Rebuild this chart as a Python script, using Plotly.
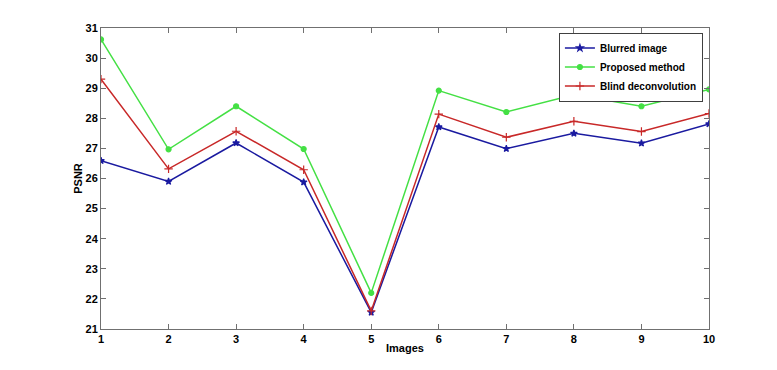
import plotly.graph_objects as go

images = [1, 2, 3, 4, 5, 6, 7, 8, 9, 10]
blurred = [26.59, 25.9, 27.18, 25.88, 21.55, 27.71, 26.99, 27.5, 27.17, 27.81]
proposed = [30.62, 26.97, 28.4, 26.98, 22.2, 28.92, 28.21, 28.78, 28.4, 28.96]
blind = [29.3, 26.32, 27.57, 26.29, 21.6, 28.14, 27.37, 27.9, 27.56, 28.16]

names = ["Blurred image", "Proposed method", "Blind deconvolution"]
colors = ["#1a1aa0", "#44e044", "#c82828"]
symbols = ["star", "circle", "cross-thin-open"]
sizes = [5, 5, 6]

fig = go.Figure()
for ys, nm, c, s, sz in zip([blurred, proposed, blind], names, colors, symbols, sizes):
    fig.add_trace(go.Scatter(
        x=images, y=ys, name=nm, mode="lines+markers",
        line=dict(color=c, width=1.5),
        marker=dict(symbol=s, size=sz, color=c, line=dict(color=c, width=1.2)),
    ))

font_fam = "Liberation Sans, Arial, sans-serif"
axis_common = dict(
    showgrid=False, zeroline=False, showline=True, linecolor="#707070", linewidth=1,
    mirror="ticks", ticks="inside", ticklen=5, tickcolor="#707070", automargin=False,
    tickfont=dict(family=font_fam, size=11, color="black", weight="bold"),
)
fig.update_layout(
    width=761, height=354,
    margin=dict(l=93, r=60, t=20, b=33),
    paper_bgcolor="white", plot_bgcolor="white",
    showlegend=True,
    legend=dict(
        x=0.99, y=0.985, xanchor="right", yanchor="top",
        bordercolor="#404040", borderwidth=1, bgcolor="white",
        font=dict(family=font_fam, size=10, color="black", weight="bold"),
        tracegroupgap=0, itemwidth=30,
    ),
    xaxis=dict(range=[1, 10], tickvals=images, title=dict(text="Images", standoff=0,
               font=dict(family=font_fam, size=11, color="black", weight="bold")), **axis_common),
    yaxis=dict(range=[21, 31], dtick=1, title=dict(text="PSNR", standoff=0,
               font=dict(family=font_fam, size=11, color="black", weight="bold")), **axis_common),
)

fig.write_html("out.html")
